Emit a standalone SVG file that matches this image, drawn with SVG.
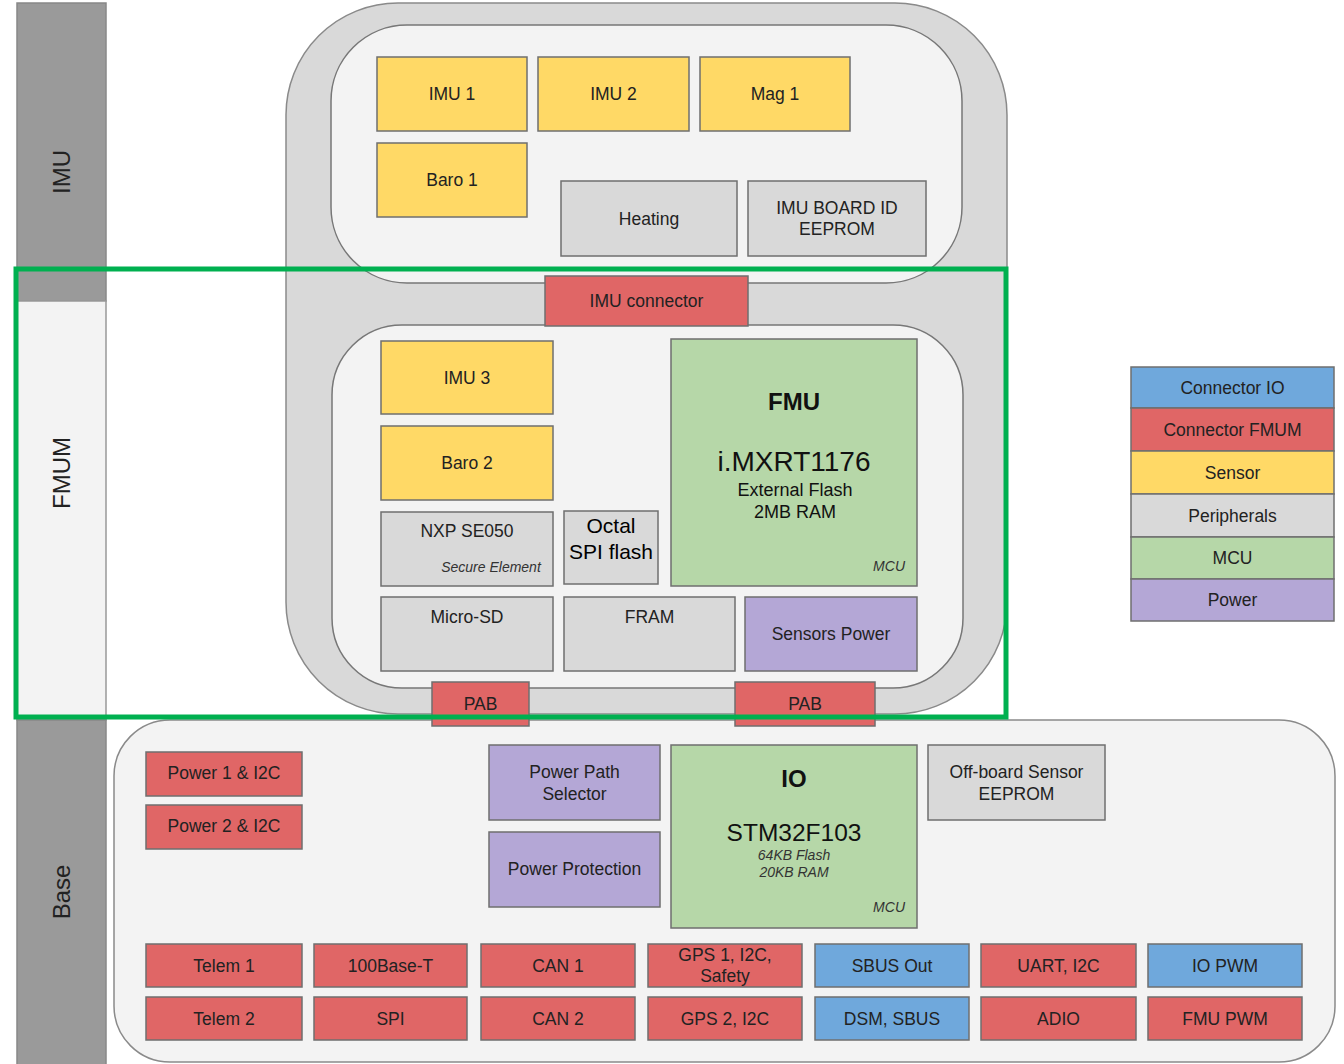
<svg xmlns="http://www.w3.org/2000/svg" width="1344" height="1064" viewBox="0 0 1344 1064">
<style>
text{font-family:"Liberation Sans",Arial,sans-serif;font-size:17.5px;fill:#222;text-anchor:middle}
.b{stroke:#6f6f6f;stroke-width:1.5}
.y{fill:#ffd966}.r{fill:#e06666}.g{fill:#d9d9d9}.m{fill:#b6d7a8}.p{fill:#b4a7d6}.u{fill:#6fa8dc}
.sm{font-size:14px;font-style:italic;fill:#333}
.side{font-size:24px}
.big{font-size:21px;fill:#000}
</style>
<rect width="1344" height="1064" fill="#fff"/>
<g id="sidebar">
<rect x="17" y="3" width="89" height="298" fill="#9a9a9a" stroke="#888" stroke-width="1.5"/>
<rect x="17" y="301" width="89" height="419" fill="#f3f3f3" stroke="#999" stroke-width="1.5"/>
<rect x="17" y="720" width="89" height="346" fill="#9a9a9a" stroke="#888" stroke-width="1.5"/>
<text class="side" transform="translate(70 172) rotate(-90)">IMU</text>
<text class="side" transform="translate(70 473) rotate(-90)">FMUM</text>
<text class="side" transform="translate(70 892) rotate(-90)">Base</text>
</g>
<g id="base-board">
<rect x="114" y="720" width="1221" height="342" rx="56" fill="#f3f3f3" stroke="#8a8a8a" stroke-width="1.5"/>
</g>
<g id="imu-fmum-frame">
<rect x="286" y="3" width="721" height="711" rx="112" fill="#d9d9d9" stroke="#8a8a8a" stroke-width="1.5"/>
<rect x="331" y="25" width="631" height="258" rx="76" fill="#f3f3f3" stroke="#777" stroke-width="1.5"/>
<rect x="332" y="325" width="631" height="363" rx="70" fill="#f3f3f3" stroke="#777" stroke-width="1.5"/>
</g>
<g id="imu1"><rect class="b y" x="377" y="57" width="150" height="74"/><text x="452" y="100">IMU 1</text></g>
<g id="imu2"><rect class="b y" x="538" y="57" width="151" height="74"/><text x="613.5" y="100">IMU 2</text></g>
<g id="mag1"><rect class="b y" x="700" y="57" width="150" height="74"/><text x="775" y="100">Mag 1</text></g>
<g id="baro1"><rect class="b y" x="377" y="143" width="150" height="74"/><text x="452" y="186">Baro 1</text></g>
<g id="heating"><rect class="b g" x="561" y="181" width="176" height="75"/><text x="649" y="225">Heating</text></g>
<g id="imu-eeprom"><rect class="b g" x="748" y="181" width="178" height="75"/><text x="837" y="214">IMU BOARD ID</text><text x="837" y="235">EEPROM</text></g>
<g id="imu-connector"><rect class="b r" x="545" y="276" width="203" height="50"/><text x="646.5" y="307">IMU connector</text></g>
<g id="imu3"><rect class="b y" x="381" y="341" width="172" height="73"/><text x="467" y="384">IMU 3</text></g>
<g id="baro2"><rect class="b y" x="381" y="426" width="172" height="74"/><text x="467" y="469">Baro 2</text></g>
<g id="se050"><rect class="b g" x="381" y="512" width="172" height="74"/><text x="467" y="537">NXP SE050</text><text class="sm" x="491" y="572">Secure Element</text></g>
<g id="octal"><rect class="b g" x="564" y="511" width="94" height="73"/><text class="big" x="611" y="533">Octal</text><text class="big" x="611" y="559">SPI flash</text></g>
<g id="fmu"><rect class="b m" x="671" y="339" width="246" height="247"/>
<text x="794" y="410" style="font-size:24px;font-weight:bold;fill:#111">FMU</text>
<text x="794" y="471" style="font-size:28px;fill:#111">i.MXRT1176</text>
<text x="795" y="496" style="font-size:18px;fill:#111">External Flash</text>
<text x="795" y="518" style="font-size:18px;fill:#111">2MB RAM</text>
<text class="sm" x="905" y="571" style="text-anchor:end">MCU</text></g>
<g id="microsd"><rect class="b g" x="381" y="597" width="172" height="74"/><text x="467" y="623">Micro-SD</text></g>
<g id="fram"><rect class="b g" x="564" y="597" width="171" height="74"/><text x="649.5" y="623">FRAM</text></g>
<g id="sensors-power"><rect class="b p" x="745" y="597" width="172" height="74"/><text x="831" y="640">Sensors Power</text></g>
<g id="pab1"><rect class="b r" x="432" y="682" width="97" height="44"/><text x="480.5" y="710">PAB</text></g>
<g id="pab2"><rect class="b r" x="735" y="682" width="140" height="44"/><text x="805" y="710">PAB</text></g>
<g id="highlight"><rect x="16" y="269" width="990" height="448" fill="none" stroke="#00b050" stroke-width="5"/></g>
<g id="power1"><rect class="b r" x="146" y="752" width="156" height="44"/><text x="224" y="779">Power 1 &amp; I2C</text></g>
<g id="power2"><rect class="b r" x="146" y="805" width="156" height="44"/><text x="224" y="832">Power 2 &amp; I2C</text></g>
<g id="power-path"><rect class="b p" x="489" y="745" width="171" height="75"/><text x="574.5" y="778">Power Path</text><text x="574.5" y="800">Selector</text></g>
<g id="power-protection"><rect class="b p" x="489" y="832" width="171" height="75"/><text x="574.5" y="875">Power Protection</text></g>
<g id="io"><rect class="b m" x="671" y="745" width="246" height="183"/>
<text x="794" y="787" style="font-size:24px;font-weight:bold;fill:#111">IO</text>
<text x="794" y="841" style="font-size:24.5px;fill:#111">STM32F103</text>
<text class="sm" x="794" y="860">64KB Flash</text>
<text class="sm" x="794" y="877">20KB RAM</text>
<text class="sm" x="905" y="912" style="text-anchor:end">MCU</text></g>
<g id="offboard-eeprom"><rect class="b g" x="928" y="745" width="177" height="75"/><text x="1016.5" y="778">Off-board Sensor</text><text x="1016.5" y="800">EEPROM</text></g>
<g id="telem1"><rect class="b r" x="146" y="944" width="156" height="43"/><text x="224" y="971.5">Telem 1</text></g>
<g id="eth"><rect class="b r" x="314" y="944" width="153" height="43"/><text x="390.5" y="971.5">100Base-T</text></g>
<g id="can1"><rect class="b r" x="481" y="944" width="154" height="43"/><text x="558" y="971.5">CAN 1</text></g>
<g id="gps1"><rect class="b r" x="648" y="944" width="154" height="43"/><text x="725" y="961">GPS 1, I2C,</text><text x="725" y="982">Safety</text></g>
<g id="sbus-out"><rect class="b u" x="815" y="944" width="154" height="43"/><text x="892" y="971.5">SBUS Out</text></g>
<g id="uart"><rect class="b r" x="981" y="944" width="155" height="43"/><text x="1058.5" y="971.5">UART, I2C</text></g>
<g id="io-pwm"><rect class="b u" x="1148" y="944" width="154" height="43"/><text x="1225" y="971.5">IO PWM</text></g>
<g id="telem2"><rect class="b r" x="146" y="997" width="156" height="43"/><text x="224" y="1024.5">Telem 2</text></g>
<g id="spi"><rect class="b r" x="314" y="997" width="153" height="43"/><text x="390.5" y="1024.5">SPI</text></g>
<g id="can2"><rect class="b r" x="481" y="997" width="154" height="43"/><text x="558" y="1024.5">CAN 2</text></g>
<g id="gps2"><rect class="b r" x="648" y="997" width="154" height="43"/><text x="725" y="1024.5">GPS 2, I2C</text></g>
<g id="dsm"><rect class="b u" x="815" y="997" width="154" height="43"/><text x="892" y="1024.5">DSM, SBUS</text></g>
<g id="adio"><rect class="b r" x="981" y="997" width="155" height="43"/><text x="1058.5" y="1024.5">ADIO</text></g>
<g id="fmu-pwm"><rect class="b r" x="1148" y="997" width="154" height="43"/><text x="1225" y="1024.5">FMU PWM</text></g>
<g id="legend">
<rect class="b u" x="1131" y="367" width="203" height="41"/><text x="1232.5" y="393.5">Connector IO</text>
<rect class="b r" x="1131" y="408" width="203" height="43"/><text x="1232.5" y="435.5">Connector FMUM</text>
<rect class="b y" x="1131" y="451" width="203" height="43"/><text x="1232.5" y="478.5">Sensor</text>
<rect class="b g" x="1131" y="494" width="203" height="43"/><text x="1232.5" y="521.5">Peripherals</text>
<rect class="b m" x="1131" y="537" width="203" height="42"/><text x="1232.5" y="564">MCU</text>
<rect class="b p" x="1131" y="579" width="203" height="42"/><text x="1232.5" y="606">Power</text>
</g>
<g id="connectors"></g>
</svg>
